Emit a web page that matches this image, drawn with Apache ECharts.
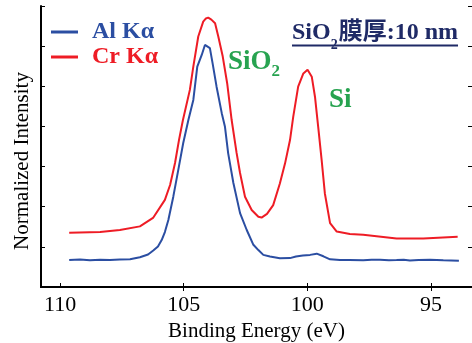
<!DOCTYPE html>
<html>
<head>
<meta charset="utf-8">
<script src="https://cdn.jsdelivr.net/npm/echarts@6/dist/echarts.min.js"></script>
<style>
  html, body { margin: 0; padding: 0; background: #fff; }
  #chart { width: 472px; height: 343px; }
</style>
</head>
<body>
<div id="chart"></div>
<script>
// Si 2p spectra of a 10 nm SiO2 film, measured with two X-ray sources
const energyAl = [109.63, 109.19, 108.79, 108.38, 107.98, 107.58, 107.17, 106.77, 106.44, 106.23,
  106.04, 105.89, 105.76, 105.62, 105.42, 105.22, 105.02, 104.81, 104.61, 104.45,
  104.27, 104.14, 104.07, 103.94, 103.83, 103.67, 103.46, 103.33, 103.20, 102.99,
  102.72, 102.45, 102.19, 101.98, 101.78, 101.51, 101.11, 100.70, 100.46, 100.18,
  99.89, 99.62, 99.35, 99.08, 98.68, 98.30, 97.74, 97.40, 97.06, 96.70,
  96.39, 96.10, 95.85, 95.50, 95.04, 94.50, 93.87];
const intensityAl = [0.67, 0.685, 0.665, 0.68, 0.67, 0.685, 0.69, 0.74, 0.81, 0.91,
  1.01, 1.17, 1.37, 1.67, 2.25, 2.91, 3.58, 4.16, 4.66, 5.49,
  5.78, 6.03, 6.07, 5.95, 5.57, 4.99, 4.33, 3.99, 3.33, 2.59,
  1.84, 1.42, 1.06, 0.92, 0.80, 0.76, 0.715, 0.72, 0.76, 0.785,
  0.80, 0.83, 0.765, 0.69, 0.67, 0.675, 0.665, 0.68, 0.68, 0.665,
  0.67, 0.68, 0.66, 0.675, 0.68, 0.665, 0.655];

const energyCr = [109.63, 108.38, 107.58, 106.77, 106.24, 105.76, 105.55, 105.35, 105.19, 105.03,
  104.75, 104.61, 104.41, 104.21, 104.10, 104.01, 103.88, 103.73, 103.60, 103.42,
  103.24, 103.06, 102.86, 102.72, 102.52, 102.25, 101.98, 101.85, 101.63, 101.38,
  101.11, 100.90, 100.70, 100.57, 100.37, 100.16, 99.99, 99.82, 99.69, 99.56,
  99.42, 99.29, 99.08, 98.81, 98.28, 97.74, 96.39, 95.31, 93.92];
const intensityCr = [1.35, 1.37, 1.42, 1.51, 1.72, 2.17, 2.54, 3.09, 3.66, 4.16,
  4.91, 5.49, 6.24, 6.61, 6.69, 6.71, 6.66, 6.57, 6.24, 5.74,
  5.07, 4.16, 3.34, 2.84, 2.25, 1.92, 1.75, 1.73, 1.82, 2.04,
  2.58, 3.08, 3.66, 4.24, 4.99, 5.32, 5.41, 5.24, 4.74, 3.99,
  3.16, 2.33, 1.59, 1.38, 1.32, 1.30, 1.21, 1.21, 1.25];

const xTicks = [110, 105, 100, 95];
const xTopTicks = [105, 100, 95];
const seriesNames = ['Al Kα', 'Cr Kα'];

const BLUE = '#2b4ea2';
const RED = '#ee1c25';
const GREEN = '#27a350';
const NAVY = '#1f2a66';
const SERIF = 'Liberation Serif, DejaVu Serif, serif';
const SERIF_CJK = 'Liberation Serif, Noto Sans CJK JP, serif';

function pairs(xs, ys) { return xs.map((x, i) => [x, ys[i]]); }

// text helpers: place bold text by its baseline, and set formulas with a lowered subscript
const measureCtx = document.createElement('canvas').getContext('2d');
function textWidth(str, size, family) {
  measureCtx.font = 'bold ' + size + 'px ' + family;
  return measureCtx.measureText(str).width;
}
function boldText(x, baseline, str, size, family, color) {
  return { type: 'text', x: x, y: baseline - 0.81 * size,
    style: { text: str, font: 'bold ' + size + 'px ' + family, fill: color } };
}
function formula(x, baseline, main, sub, rest, size, subSize, subBaseline, color, family) {
  const w1 = textWidth(main, size, family);
  const w2 = textWidth(sub, subSize, SERIF) + 1;
  const parts = [
    boldText(x, baseline, main, size, family, color),
    boldText(x + w1, subBaseline, sub, subSize, SERIF, color)
  ];
  let w3 = 0;
  if (rest) {
    parts.push(boldText(x + w1 + w2, baseline, rest, size, family, color));
    w3 = textWidth(rest, size, family);
  }
  return { parts: parts, width: w1 + w2 + w3 };
}

const chart = echarts.init(document.getElementById('chart'), null, { renderer: 'canvas' });

const xBase = {
  type: 'value', inverse: true, min: 93.34, max: 110.77,
  splitLine: { show: false },
  axisLine: { show: true, lineStyle: { color: '#000', width: 2 } }
};
const yBase = {
  type: 'value', min: 0, max: 7, interval: 1,
  splitLine: { show: false },
  axisLabel: { show: false },
  axisTick: { show: true, inside: true, length: 4, lineStyle: { color: '#000', width: 1 } }
};

const sio2 = formula(228, 70, 'SiO', '2', '', 27, 17, 77, GREEN, SERIF);
const title = formula(292, 40.5, 'SiO', '2', '膜厚:10 nm', 24, 14, 50, NAVY, SERIF_CJK);

chart.setOption({
  animation: false,
  backgroundColor: '#fff',
  grid: { left: 41, right: 0, top: 6, bottom: 56, containLabel: false, outerBoundsMode: 'none' },
  xAxis: [
    Object.assign({}, xBase, {
      position: 'bottom',
      name: 'Binding Energy (eV)', nameLocation: 'middle', nameGap: 29,
      nameTextStyle: { fontFamily: SERIF, fontSize: 21, color: '#000' },
      axisTick: { show: true, inside: true, length: 4, customValues: xTicks, lineStyle: { color: '#000' } },
      axisLabel: { show: true, customValues: xTicks, margin: 7, fontFamily: SERIF, fontSize: 22, color: '#000' }
    }),
    Object.assign({}, xBase, {
      position: 'top',
      axisTick: { show: true, inside: true, length: 4, customValues: xTopTicks, lineStyle: { color: '#000' } },
      axisLabel: { show: false }
    })
  ],
  yAxis: [
    Object.assign({}, yBase, { position: 'left', axisLine: { show: true, lineStyle: { color: '#000', width: 2 } } }),
    Object.assign({}, yBase, { position: 'right', axisLine: { show: false } })
  ],
  legend: {
    orient: 'vertical', left: 51, top: 20, itemGap: 1, padding: 0,
    itemWidth: 27, itemHeight: 3, icon: 'rect',
    textStyle: { fontFamily: SERIF, fontSize: 24, fontWeight: 'bold', padding: [0, 0, 0, 9] },
    data: [
      { name: seriesNames[0], textStyle: { color: BLUE } },
      { name: seriesNames[1], textStyle: { color: RED } }
    ]
  },
  series: [
    {
      name: seriesNames[0], type: 'line', showSymbol: false, smooth: false,
      data: pairs(energyAl, intensityAl),
      lineStyle: { color: BLUE, width: 2 }, itemStyle: { color: BLUE }, z: 3
    },
    {
      name: seriesNames[1], type: 'line', showSymbol: false, smooth: false,
      data: pairs(energyCr, intensityCr),
      lineStyle: { color: RED, width: 2 }, itemStyle: { color: RED }, z: 2
    }
  ],
  graphic: [
    {
      type: 'text', x: 22, y: 161, rotation: Math.PI / 2,
      style: { text: 'Normalized Intensity', fontFamily: SERIF, fontSize: 21, fill: '#000',
        align: 'center', verticalAlign: 'middle' }
    },
    boldText(329, 108, 'Si', 27, SERIF, GREEN),
    {
      type: 'line', shape: { x1: 292, y1: 45.5, x2: 292 + title.width, y2: 45.5 },
      style: { stroke: NAVY, lineWidth: 2 }
    }
  ].concat(sio2.parts, title.parts)
});
</script>
</body>
</html>
